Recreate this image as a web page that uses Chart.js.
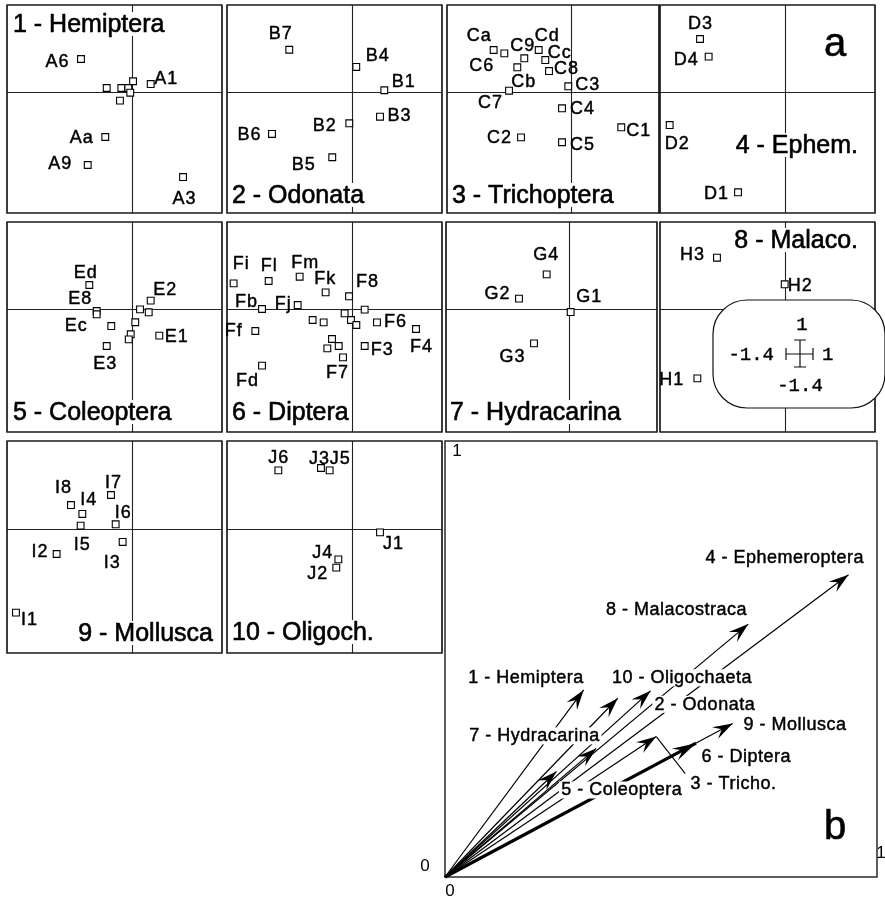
<!DOCTYPE html>
<html><head><meta charset="utf-8">
<script src="https://cdn.jsdelivr.net/npm/chart.js@4/dist/chart.umd.min.js"></script>
<style>
html,body{margin:0;padding:0;background:#fff;}
#wrap{position:relative;width:885px;height:898px;overflow:hidden;background:#fff;}
canvas{position:absolute;}
</style></head><body><div id="wrap"></div>
<script>
// ---------- DATA: panel a (ordination scores, axes -1.4..1) ----------
const P1_names = ['A6','A1','','','','','','','Aa','A9','A3'];
const P1_x = [-0.574,0.204,-0.287,-0.124,-0.046,0.007,-0.024,-0.139,-0.303,-0.499,0.565];
const P1_y = [0.377,0.088,0.042,0.042,0.042,0.120,-0.012,-0.104,-0.523,-0.846,-0.985];

const P2_names = ['B7','B4','B1','B3','B2','B6','B5'];
const P2_x = [-0.705,0.043,0.356,0.308,-0.035,-0.898,-0.225];
const P2_y = [0.484,0.285,0.016,-0.289,-0.365,-0.488,-0.757];

const P3_names = ['Ca','C6','C9','Cb','Cd','Cc','C8','C7','C3','C4','C2','C5','C1'];
const P3_x = [-0.872,-0.751,-0.525,-0.604,-0.362,-0.287,-0.245,-0.698,-0.027,-0.098,-0.562,-0.098,0.573];
const P3_y = [0.481,0.442,0.385,0.281,0.481,0.365,0.238,0.011,0.062,-0.192,-0.527,-0.584,-0.411];

const P4_names = ['D3','D4','D2','D1'];
const P4_x = [-0.953,-0.857,-1.292,-0.529];
const P4_y = [0.608,0.404,-0.385,-1.161];

const P5_names = ['Ed','E8','Ec','','E3','E2','','','','','','E1'];
const P5_x = [-0.481,-0.399,-0.399,-0.236,-0.287,0.204,0.085,0.182,0.032,-0.019,-0.041,0.300];
const P5_y = [0.280,-0.017,-0.055,-0.189,-0.417,0.101,0.002,-0.032,-0.146,-0.283,-0.341,-0.299];

const P6_names = ['Fi','Fl','Fm','Fk','F8','Fb','Fj','','','','','','','Ff','F6','F4','','','','F7','F3','Fd'];
const P6_x = [-1.326,-0.935,-0.589,-0.299,-0.038,-1.009,-0.611,0.137,-0.444,-0.321,-0.087,-0.016,0.044,-1.084,0.274,0.710,-0.228,-0.280,-0.153,-0.105,0.137,-1.009];
const P6_y = [0.299,0.326,0.375,0.196,0.151,0.006,0.051,-0.002,-0.120,-0.147,-0.044,-0.120,-0.177,-0.246,-0.147,-0.223,-0.337,-0.444,-0.417,-0.547,-0.417,-0.642];

const P7_names = ['G4','G2','G1','G3'];
const P7_x = [-0.255,-0.570,0.018,-0.399];
const P7_y = [0.402,0.124,-0.029,-0.387];

const P8_names = ['H3','H2','H1'];
const P8_x = [-0.764,-0.008,-0.983];
const P8_y = [0.592,0.288,-0.787];

const P9_names = ['I8','I7','I4','I6','I5','I3','I2','I1'];
const P9_x = [-0.686,-0.239,-0.559,-0.187,-0.578,-0.109,-0.846,-1.300];
const P9_y = [0.275,0.389,0.174,0.057,0.042,-0.143,-0.279,-0.943];

const P10_names = ['J6','J3','J5','J1','J4','J2'];
const P10_x = [-0.827,-0.351,-0.254,0.308,-0.157,-0.180];
const P10_y = [0.668,0.694,0.668,-0.034,-0.340,-0.434];

const AXIS_MIN = -1.4, AXIS_MAX = 1;
const LEGEND_TICKS = ['1','-1.4','1','-1.4'];

// ---------- DATA: panel b (arrows, axes 0..1) ----------
const B_names = ['1 - Hemiptera','2 - Odonata','3 - Tricho.','4 - Ephemeroptera','5 - Coleoptera','6 - Diptera','7 - Hydracarina','8 - Malacostraca','9 - Mollusca','10 - Oligochaeta'];
const B_x = [0.321,0.476,0.489,0.934,0.258,0.581,0.350,0.702,0.666,0.400];
const B_y = [0.429,0.427,0.322,0.693,0.242,0.307,0.295,0.580,0.352,0.410];
const B_axisTicks = ['0','1'];

// ---------- LAYOUT (label offsets in px, panel boxes) ----------
const P1_off = [[-24,2],[15,-6],0,0,0,0,0,0,[-24,0],[-28,-2],[1,21]];
const P2_off = [[-9,-17],[21,-12],[19,-9],[19,-2],[-25,2],[-23,0],[-29,7]];
const P3_off = [[-15,-15],[-23,12],[-2,-13],[6,14],[8,-15],[14,-8],[17,-3],[-19,11],[19,-2],[20,0],[-22,0],[20,2],[17,3]];
const P4_off = [[0,-16],[-23,2],[7,18],[-22,1]];
const P5_off = [[-4,-13],[-17,-13],[-21,11],0,[-2,17],[14,-12],0,0,0,0,0,[17,0]];
const P6_off = [[7,-20],[0,-16],[5,-15],[-1,-14],[18,-15],[-16,-8],[-15,-2],0,0,0,0,0,0,[-22,-1],[18,-1],[5,17],0,0,0,[-6,15],[17,3],[-15,14]];
const P7_off = [[-1,-20],[-22,-6],[18,-16],[-22,13]];
const P8_off = [[-25,-4],[15,1],[-26,1]];
const P9_off = [[-8,-18],[2,-13],[6,-15],[7,-12],[1,18],[-11,20],[-17,-3],[13,6]];
const P10_off = [[0,-13],[-2,-10],[10,-12],[13,11],[-16,-7],[-19,5]];
const B_off = [[-58,-13],[54,13],[77,46],[-64,-18],[65,18],[50,13],[-62,-13],[-72,-15],[62,1],[64,-21]];
const B_width = [1.2,1.2,1.2,1.2,1.2,3.2,1.2,1.2,1.2,1.2];

const FONT = '"Liberation Sans", Arial, Helvetica, sans-serif';
const MONO = '"Liberation Mono", "DejaVu Sans Mono", monospace';

const panels = [
 {box:[7,5,215,208], n:P1_names, x:P1_x, y:P1_y, o:P1_off, title:{text:'1 - Hemiptera', ax:'l', ay:'t', dx:6, dy:19}},
 {box:[227,5,215,208], n:P2_names, x:P2_x, y:P2_y, o:P2_off, title:{text:'2 - Odonata', ax:'l', ay:'b', dx:5, dy:18}},
 {box:[447,5,212,208], n:P3_names, x:P3_x, y:P3_y, o:P3_off, title:{text:'3 - Trichoptera', ax:'l', ay:'b', dx:5, dy:18}},
 {box:[660,5,215,208], n:P4_names, x:P4_x, y:P4_y, o:P4_off, title:{text:'4 - Ephem.', ax:'r', ay:'t', dx:17, dy:140}, mark:'a'},
 {box:[7,222,215,210], n:P5_names, x:P5_x, y:P5_y, o:P5_off, title:{text:'5 - Coleoptera', ax:'l', ay:'b', dx:6, dy:20}},
 {box:[227,222,215,210], n:P6_names, x:P6_x, y:P6_y, o:P6_off, title:{text:'6 - Diptera', ax:'l', ay:'b', dx:5, dy:20}},
 {box:[446,222,211,210], n:P7_names, x:P7_x, y:P7_y, o:P7_off, title:{text:'7 - Hydracarina', ax:'l', ay:'b', dx:4, dy:20}},
 {box:[660,222,215,210], n:P8_names, x:P8_x, y:P8_y, o:P8_off, title:{text:'8 - Malaco.', ax:'r', ay:'t', dx:17, dy:18}, legend:true},
 {box:[7,441,215,212], n:P9_names, x:P9_x, y:P9_y, o:P9_off, title:{text:'9 - Mollusca', ax:'r', ay:'b', dx:9, dy:20}},
 {box:[227,441,215,212], n:P10_names, x:P10_x, y:P10_y, o:P10_off, title:{text:'10 - Oligoch.', ax:'l', ay:'b', dx:5, dy:21}}
];

function setSpacing(ctx, px){ if ('letterSpacing' in ctx) ctx.letterSpacing = px + 'px'; }
function boldText(ctx, s, x, y, w){
  ctx.fillText(s, x, y);
  ctx.lineWidth = w; ctx.strokeStyle = '#000'; ctx.lineJoin = 'round';
  ctx.strokeText(s, x, y);
}

function roundRect(ctx, x, y, w, h, r){
  ctx.beginPath();
  ctx.moveTo(x + r, y);
  ctx.lineTo(x + w - r, y); ctx.arcTo(x + w, y, x + w, y + r, r);
  ctx.lineTo(x + w, y + h - r); ctx.arcTo(x + w, y + h, x + w - r, y + h, r);
  ctx.lineTo(x + r, y + h); ctx.arcTo(x, y + h, x, y + h - r, r);
  ctx.lineTo(x, y + r); ctx.arcTo(x, y, x + r, y, r);
  ctx.closePath();
}

const panelPlugin = {
  id: 'panelDeco',
  beforeDatasetsDraw(chart){
    const cfg = chart.options.plugins.panelDeco;
    const ctx = chart.ctx, a = chart.chartArea;
    const x0 = chart.scales.x.getPixelForValue(0), y0 = chart.scales.y.getPixelForValue(0);
    ctx.save();
    ctx.strokeStyle = '#222'; ctx.lineWidth = 1.1;
    const xr = Math.round(x0) + 0.5, yr = Math.round(y0) + 0.5;
    ctx.beginPath();
    ctx.moveTo(xr, a.top); ctx.lineTo(xr, a.bottom);
    ctx.moveTo(a.left, yr); ctx.lineTo(a.right, yr);
    ctx.stroke();
    const t = cfg.title;
    ctx.font = '25px ' + FONT;
    const tw = ctx.measureText(t.text).width;
    const ty = t.ay === 't' ? a.top + t.dy : a.bottom - t.dy;
    const tx = t.ax === 'l' ? a.left + t.dx : a.right - t.dx - tw;
    ctx.fillStyle = '#fff';
    ctx.fillRect(tx - 3, ty - 12, tw + 6, 24);
    ctx.fillStyle = '#000'; ctx.textAlign = 'left'; ctx.textBaseline = 'middle';
    boldText(ctx, t.text, tx, ty + 1, 0.6);
    if (cfg.mark){
      ctx.font = '40px ' + FONT; ctx.textAlign = 'center';
      boldText(ctx, cfg.mark, a.left + 175, a.top + 40, 0.6);
    }
    ctx.strokeStyle = '#1a1a1a'; ctx.lineWidth = 1.7;
    ctx.strokeRect(a.left, a.top, a.right - a.left, a.bottom - a.top);
    ctx.restore();
  },
  afterDatasetsDraw(chart){
    const cfg = chart.options.plugins.panelDeco;
    const ctx = chart.ctx, a = chart.chartArea;
    const meta = chart.getDatasetMeta(0);
    ctx.save();
    ctx.fillStyle = '#000';
    ctx.font = '18px ' + FONT; ctx.textAlign = 'center'; ctx.textBaseline = 'middle';
    setSpacing(ctx, 1);
    cfg.names.forEach((nm, i) => {
      if (!nm) return;
      const p = meta.data[i], o = cfg.offs[i];
      boldText(ctx, nm, p.x + o[0] + 0.5, p.y + o[1] + 1, 0.45);
    });
    setSpacing(ctx, 0);
    if (cfg.legend){
      const lx = a.left, ly = a.top;
      roundRect(ctx, lx + 53, ly + 78, 172, 108, 34);
      ctx.fillStyle = '#fff'; ctx.fill();
      ctx.strokeStyle = '#111'; ctx.lineWidth = 1.2; ctx.stroke();
      const cx = lx + 140, cy = ly + 132;
      ctx.lineWidth = 1.2;
      ctx.beginPath();
      ctx.moveTo(cx - 14, cy); ctx.lineTo(cx + 13, cy);
      ctx.moveTo(cx - 14, cy - 6); ctx.lineTo(cx - 14, cy + 6);
      ctx.moveTo(cx + 13, cy - 6); ctx.lineTo(cx + 13, cy + 6);
      ctx.moveTo(cx, cy - 14); ctx.lineTo(cx, cy + 13);
      ctx.moveTo(cx - 6, cy - 14); ctx.lineTo(cx + 6, cy - 14);
      ctx.moveTo(cx - 6, cy + 13); ctx.lineTo(cx + 6, cy + 13);
      ctx.stroke();
      ctx.fillStyle = '#000'; ctx.font = '19px ' + MONO; ctx.textBaseline = 'middle';
      ctx.textAlign = 'center'; boldText(ctx, LEGEND_TICKS[0], cx + 2, cy - 29, 0.4);
      ctx.textAlign = 'right'; boldText(ctx, LEGEND_TICKS[1], cx - 26, cy + 1, 0.4);
      ctx.textAlign = 'left'; boldText(ctx, LEGEND_TICKS[2], cx + 22, cy + 1, 0.4);
      ctx.textAlign = 'center'; boldText(ctx, LEGEND_TICKS[3], cx, cy + 32, 0.4);
    }
    ctx.restore();
  }
};

const wrap = document.getElementById('wrap');
const M = 12;
panels.forEach(p => {
  const [l, t, w, h] = p.box;
  const c = document.createElement('canvas');
  c.width = w + 2 * M; c.height = h + 2 * M;
  c.style.left = (l - M) + 'px'; c.style.top = (t - M) + 'px';
  wrap.appendChild(c);
  new Chart(c, {
    type: 'scatter',
    data: { datasets: [{
      data: p.x.map((v, i) => ({x: v, y: p.y[i]})),
      pointStyle: 'rect', pointRadius: 4.8, borderColor: '#000', backgroundColor: '#fff', borderWidth: 1.1, clip: false
    }]},
    options: {
      responsive: false, animation: false, events: [], devicePixelRatio: 1,
      layout: { padding: M },
      scales: {
        x: { type: 'linear', min: AXIS_MIN, max: AXIS_MAX, display: false },
        y: { type: 'linear', min: AXIS_MIN, max: AXIS_MAX, display: false }
      },
      plugins: {
        legend: { display: false }, tooltip: { enabled: false },
        panelDeco: { names: p.n, offs: p.o, title: p.title, mark: p.mark, legend: p.legend }
      }
    },
    plugins: [panelPlugin]
  });
});

// ---------- panel b ----------
function arrowHead(ctx, x, y, ang, L, W){
  const c = Math.cos(ang), s = Math.sin(ang);
  const bx = x - L * c, by = y - L * s;
  ctx.beginPath();
  ctx.moveTo(x, y);
  ctx.lineTo(bx - W / 2 * s, by + W / 2 * c);
  ctx.lineTo(x - 0.62 * L * c, y - 0.62 * L * s);
  ctx.lineTo(bx + W / 2 * s, by - W / 2 * c);
  ctx.closePath(); ctx.fill();
}

const bPlugin = {
  id: 'bDeco',
  beforeDatasetsDraw(chart){
    const ctx = chart.ctx, a = chart.chartArea, sx = chart.scales.x, sy = chart.scales.y;
    ctx.save();
    ctx.strokeStyle = '#1a1a1a'; ctx.lineWidth = 1.4;
    ctx.strokeRect(a.left, a.top, a.right - a.left, a.bottom - a.top);
    ctx.fillStyle = '#000'; ctx.font = '17px ' + FONT; ctx.textAlign = 'center'; ctx.textBaseline = 'middle';
    const x0 = sx.getPixelForValue(0), x1 = sx.getPixelForValue(1);
    const y0 = sy.getPixelForValue(0), y1 = sy.getPixelForValue(1);
    ctx.fillText(B_axisTicks[1], x0 + 12, y1 + 10);
    ctx.fillText(B_axisTicks[1], x1 + 4, y0 - 24);
    ctx.fillText(B_axisTicks[0], x0 - 20, y0 - 11);
    ctx.fillText(B_axisTicks[0], x0 + 5, y0 + 14);
    ctx.restore();
  },
  afterDatasetsDraw(chart){
    const ctx = chart.ctx, a = chart.chartArea;
    ctx.save();
    ctx.font = '18px ' + FONT; ctx.textAlign = 'center'; ctx.textBaseline = 'middle';
    setSpacing(ctx, 0.5);
    const tips = B_names.map((_, i) => {
      const m = chart.getDatasetMeta(i);
      return [m.data[0], m.data[1]];
    });
    B_names.forEach((nm, i) => {
      const tip = tips[i][1], o = B_off[i];
      const cx = tip.x + o[0], cy = tip.y + o[1];
      const w = ctx.measureText(nm).width;
      ctx.fillStyle = '#fff';
      ctx.fillRect(cx - w / 2 - 2, cy - 8, w + 4, 17);
      ctx.fillStyle = '#000';
      boldText(ctx, nm, cx + 0.25, cy + 1, 0.45);
    });
    setSpacing(ctx, 0);
    // leader line for 3 - Tricho.
    const tt = tips[2][1];
    ctx.strokeStyle = '#000'; ctx.lineWidth = 1.1;
    ctx.beginPath(); ctx.moveTo(tt.x, tt.y); ctx.lineTo(tt.x + 29, tt.y + 37); ctx.stroke();
    ctx.fillStyle = '#000';
    B_names.forEach((nm, i) => {
      const [p0, p1] = tips[i];
      const ang = Math.atan2(p1.y - p0.y, p1.x - p0.x);
      const big = B_width[i] > 2;
      arrowHead(ctx, p1.x, p1.y, ang, big ? 24 : 20, 13);
    });
    ctx.font = '40px ' + FONT; ctx.textAlign = 'center'; ctx.textBaseline = 'middle';
    boldText(ctx, 'b', a.right - 42, a.bottom - 49, 0.6);
    ctx.restore();
  }
};

(function(){
  const c = document.createElement('canvas');
  const L = 418, T = 436, W = 467, H = 462;
  c.width = W; c.height = H; c.style.left = L + 'px'; c.style.top = T + 'px';
  wrap.appendChild(c);
  new Chart(c, {
    type: 'scatter',
    data: { datasets: B_names.map((nm, i) => ({
      label: nm,
      data: [{x: 0, y: 0}, {x: B_x[i], y: B_y[i]}],
      showLine: true, pointRadius: 0, borderColor: '#000', borderWidth: B_width[i], clip: false
    }))},
    options: {
      responsive: false, animation: false, events: [], devicePixelRatio: 1,
      layout: { padding: { left: 27, top: 5, right: 8, bottom: 21 } },
      scales: {
        x: { type: 'linear', min: 0, max: 1, display: false },
        y: { type: 'linear', min: 0, max: 1, display: false }
      },
      plugins: { legend: { display: false }, tooltip: { enabled: false } }
    },
    plugins: [bPlugin]
  });
})();
</script></body></html>
